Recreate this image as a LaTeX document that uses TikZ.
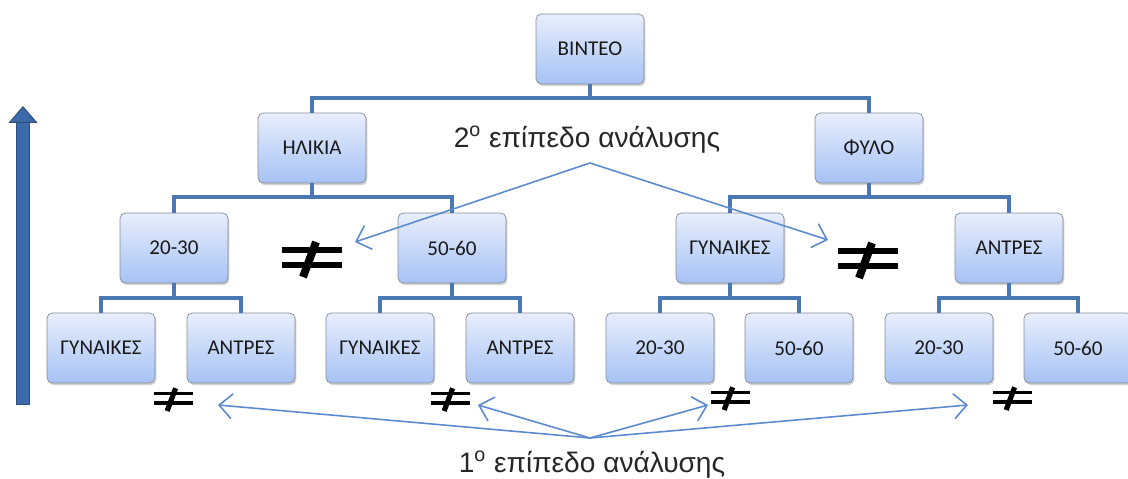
\documentclass[tikz,border=0pt]{standalone}
\usepackage{fontspec}
\setmainfont{Carlito}
\newfontfamily\notefont{Liberation Sans}
\usepackage{xcolor}
\usepackage{tikz}
\usetikzlibrary{positioning, arrows.meta, shadows, calc}

\definecolor{boxtop}{HTML}{E8EEFC}
\definecolor{boxbot}{HTML}{A6C2F5}
\definecolor{boxedge}{HTML}{858B96}
\definecolor{linkblue}{HTML}{4A78B2}
\definecolor{noteblue}{HTML}{5B8ACF}
\definecolor{bigblue}{HTML}{3D6AAA}

\begin{document}
\begin{tikzpicture}[x=0.02cm, y=-0.02cm,
    box/.style={draw=boxedge, rounded corners=3pt, minimum width=2.16cm, minimum height=1.4cm,
        top color=boxtop, bottom color=boxbot, text=black!90,
        drop shadow={opacity=0.35, shadow xshift=0.8pt, shadow yshift=-1.2pt},
        font=\fontsize{12}{14}\selectfont},
    link/.style={draw=linkblue, line width=2.2pt},
    note/.style={draw=noteblue, line width=0.9pt, -{Straight Barb[length=2.6mm, width=5mm]}},
    level/.style={font=\notefont\fontsize{16}{19}\selectfont, text=black!85}]
        \useasboundingbox (0,0) rectangle (1128,479);

        % top of the tree
        \node[box] (video) at (590,49) {ΒΙΝΤΕΟ};
        \node[box] (age) at (312,148) {ΗΛΙΚΙΑ};
        \node[box] (sex) at (869,148) {ΦΥΛΟ};

        % second row
        \node[box] (a2030) at (174,248) {20-30};
        \node[box] (a5060) at (452,248) {50-60};
        \node[box] (swomen) at (730,248) {ΓΥΝΑΙΚΕΣ};
        \node[box] (smen) at (1009,248) {ΑΝΤΡΕΣ};

        % third row
        \node[box] (awomen1) at (101,348) {ΓΥΝΑΙΚΕΣ};
        \node[box] (amen1) at (241,348) {ΑΝΤΡΕΣ};
        \node[box] (awomen2) at (380,348) {ΓΥΝΑΙΚΕΣ};
        \node[box] (amen2) at (520,348) {ΑΝΤΡΕΣ};
        \node[box] (s2030a) at (660,348) {20-30};
        \node[box] (s5060a) at (799,348) {50-60};
        \node[box] (s2030b) at (939,348) {20-30};
        \node[box] (s5060b) at (1078,348) {50-60};

        \draw[link] (video.south) -- ++(0,14) -| (age.north);
        \draw[link] (video.south) -- ++(0,14) -| (sex.north);
        \draw[link] (age.south) -- ++(0,14) -| (a2030.north);
        \draw[link] (age.south) -- ++(0,14) -| (a5060.north);
        \draw[link] (sex.south) -- ++(0,14) -| (swomen.north);
        \draw[link] (sex.south) -- ++(0,14) -| (smen.north);
        \draw[link] (a2030.south) -- ++(0,15) -| (awomen1.north);
        \draw[link] (a2030.south) -- ++(0,15) -| (amen1.north);
        \draw[link] (a5060.south) -- ++(0,15) -| (awomen2.north);
        \draw[link] (a5060.south) -- ++(0,15) -| (amen2.north);
        \draw[link] (swomen.south) -- ++(0,15) -| (s2030a.north);
        \draw[link] (swomen.south) -- ++(0,15) -| (s5060a.north);
        \draw[link] (smen.south) -- ++(0,15) -| (s2030b.north);
        \draw[link] (smen.south) -- ++(0,15) -| (s5060b.north);

        % big not-equal signs
        \foreach \cx/\cy/\s in {312/257/1, 868/258/1, 173/398/0.65, 450/398/0.65, 730/397/0.65, 1012/397/0.65} {
            \begin{scope}[shift={(\cx,\cy)}, scale=\s]
                \fill (-30,-10) rectangle (30,-4);
                \fill (-30,5) rectangle (30,11);
                \draw[line width=\s*4.5pt] (4,-15) -- (-9,20);
            \end{scope}
        }

        % levels of analysis
        \node[level] (level2) at (587,140) {2\textsuperscript{o} επίπεδο ανάλυσης};
        \node[level] (level1) at (592,465) {1\textsuperscript{o} επίπεδο ανάλυσης};

        \coordinate (from2) at (590,163);
        \coordinate (from1) at (590,438);
        \draw[note] (from2) -- (355,242);
        \draw[note] (from2) -- (828,240);
        \draw[note] (from1) -- (218,405);
        \draw[note] (from1) -- (478,405);
        \draw[note] (from1) -- (708,405);
        \draw[note] (from1) -- (968,405);

        % upward arrow
        \coordinate (up0) at (23,405);
        \coordinate (up1) at (23,106);
        \draw[draw=bigblue!75!black, line width=8.5pt,
            -{Triangle[length=3.4mm, width=5.8mm, fill=bigblue, line width=0.6pt]}] (up0) -- (up1);
        \draw[draw=bigblue, line width=7pt, shorten >=3.4mm] (up0) ++(0,-1) -- (up1);
\end{tikzpicture}
\end{document}
